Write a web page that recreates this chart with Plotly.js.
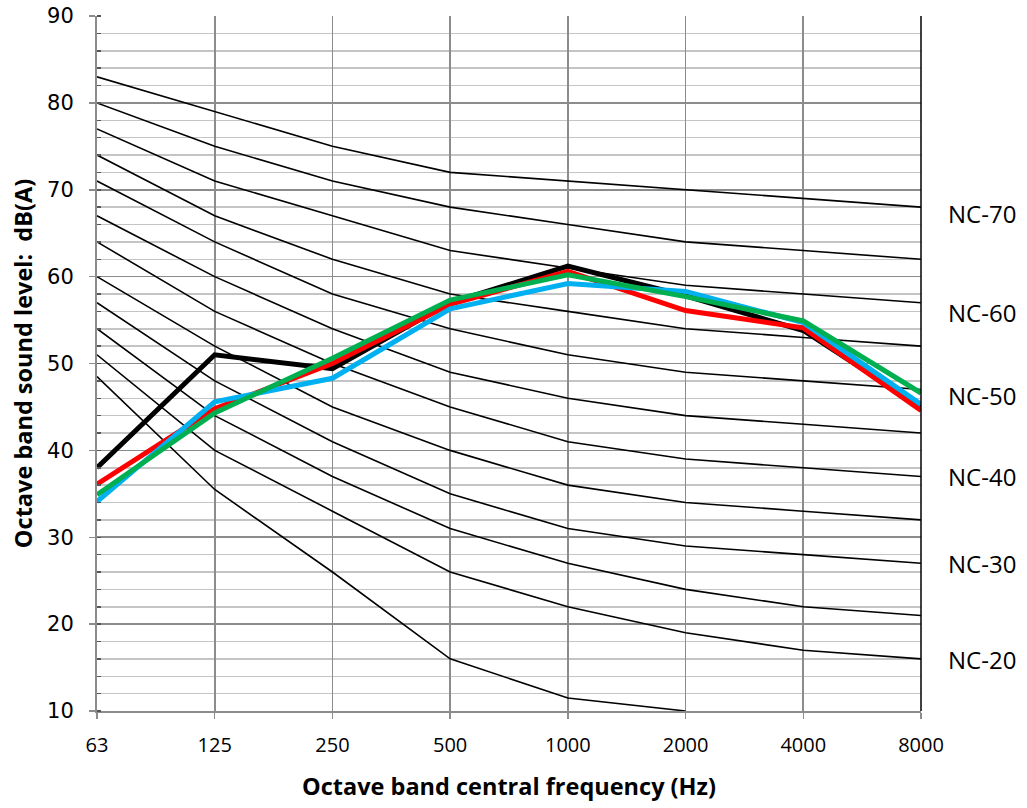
<!DOCTYPE html>
<html>
<head>
<meta charset="utf-8">
<script src="https://cdn.plot.ly/plotly-3.0.1.min.js"></script>
<style>
  html, body { margin: 0; padding: 0; background: #fff; }
  #chart { width: 1027px; height: 808px; }
</style>
</head>
<body>
<div id="chart"></div>
<script>
// Octave band centre frequencies (category labels)
const frequencies = ["63", "125", "250", "500", "1000", "2000", "4000", "8000"];

// NC reference curves (dB)
const nc70 = [83, 79, 75, 72, 71, 70, 69, 68];
const nc65 = [80, 75, 71, 68, 66, 64, 63, 62];
const nc60 = [77, 71, 67, 63, 61, 59, 58, 57];
const nc55 = [74, 67, 62, 58, 56, 54, 53, 52];
const nc50 = [71, 64, 58, 54, 51, 49, 48, 47];
const nc45 = [67, 60, 54, 49, 46, 44, 43, 42];
const nc40 = [64, 56, 50, 45, 41, 39, 38, 37];
const nc35 = [60, 52, 45, 40, 36, 34, 33, 32];
const nc30 = [57, 48, 41, 35, 31, 29, 28, 27];
const nc25 = [54, 44, 37, 31, 27, 24, 22, 21];
const nc20 = [51, 40, 33, 26, 22, 19, 17, 16];
const ncLowest = [48.5, 35.5, 26, 16, 11.5, 10];

// Measured spectra
const seriesBlack = [38.0, 51.0, 49.4, 57.0, 61.2, 57.8, 53.8, 45.0];
const seriesRed   = [36.1, 44.8, 50.0, 56.8, 60.6, 56.1, 54.1, 44.6];
const seriesCyan  = [34.1, 45.6, 48.3, 56.3, 59.2, 58.3, 54.7, 45.3];
const seriesGreen = [34.9, 44.3, 50.6, 57.3, 60.2, 57.7, 54.9, 46.6];

// Curve labels
const ncLabels = ["NC-70", "NC-60", "NC-50", "NC-40", "NC-30", "NC-20"];
const ncLabelLevels = [67.3, 55.9, 46.3, 37.0, 27.0, 15.9];

const ncCurves = [nc70, nc65, nc60, nc55, nc50, nc45, nc40, nc35, nc30, nc25, nc20, ncLowest];

const traces = [];
ncCurves.forEach(function (vals) {
  traces.push({
    x: frequencies.slice(0, vals.length),
    y: vals,
    type: "scatter",
    mode: "lines",
    line: { color: "#000000", width: 1.6 },
    hoverinfo: "skip",
    showlegend: false
  });
});

const dataSeries = [
  { y: seriesBlack, color: "#000000" },
  { y: seriesRed, color: "#ff0000" },
  { y: seriesCyan, color: "#00b0f0" },
  { y: seriesGreen, color: "#00b050" }
];
dataSeries.forEach(function (s) {
  traces.push({
    x: frequencies,
    y: s.y,
    type: "scatter",
    mode: "lines",
    line: { color: s.color, width: 5 },
    showlegend: false
  });
});

const annotations = ncLabels.map(function (t, i) {
  return {
    text: t,
    xref: "paper",
    yref: "y",
    x: 1.03,
    y: ncLabelLevels[i],
    xanchor: "left",
    yanchor: "middle",
    showarrow: false,
    font: { family: "Open Sans, Noto Sans, sans-serif", size: 24, color: "#000" }
  };
});

const layout = {
  width: 1027,
  height: 808,
  margin: { l: 97, r: 106, t: 16, b: 97 },
  paper_bgcolor: "#ffffff",
  plot_bgcolor: "#ffffff",
  showlegend: false,
  xaxis: {
    type: "category",
    categoryorder: "array",
    categoryarray: frequencies,
    range: [0, 7],
    showgrid: true,
    gridcolor: "#8c8c8c",
    gridwidth: 1.6,
    showline: true,
    linecolor: "#8c8c8c",
    linewidth: 2,
    ticks: "outside",
    ticklen: 6,
    tickcolor: "#8c8c8c",
    tickwidth: 1.5,
    tickfont: { family: "Open Sans, Noto Sans, sans-serif", size: 20, color: "#000" },
    ticklabelstandoff: 9,
    zeroline: false,
    title: {
      text: "Octave band central frequency (Hz)",
      font: { family: "Open Sans, Noto Sans, sans-serif", size: 23.5, color: "#000", weight: "bold" },
      standoff: 22
    }
  },
  yaxis: {
    range: [10, 90],
    dtick: 10,
    tick0: 10,
    showgrid: true,
    gridcolor: "#8c8c8c",
    gridwidth: 1.6,
    showline: true,
    linecolor: "#8c8c8c",
    linewidth: 2,
    ticks: "outside",
    ticklen: 6,
    tickcolor: "#8c8c8c",
    tickwidth: 1.5,
    tickfont: { family: "DejaVu Sans, Verdana, sans-serif", size: 21, color: "#000" },
    ticklabelstandoff: 11,
    zeroline: false,
    minor: {
      dtick: 2,
      showgrid: true,
      gridcolor: "#c4c4c4",
      gridwidth: 1.5,
      ticks: "inside",
      ticklen: 4,
      tickcolor: "#555"
    },
    title: {
      text: "Octave band sound level:  dB(A)",
      font: { family: "Open Sans, Noto Sans, sans-serif", size: 23.5, color: "#000", weight: "bold" },
      standoff: 8
    }
  },
  shapes: [
    {
      type: "line",
      xref: "paper", yref: "paper",
      x0: 1, x1: 1, y0: 0, y1: 1,
      line: { color: "#000000", width: 1.5 }
    }
  ],
  annotations: annotations
};

Plotly.newPlot("chart", traces, layout, { displayModeBar: false, staticPlot: true });
</script>
</body>
</html>
